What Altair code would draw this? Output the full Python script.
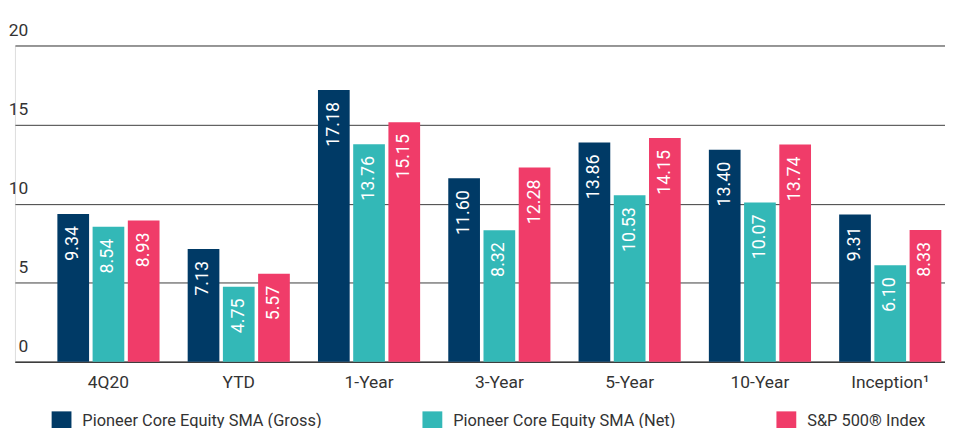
import altair as alt
import pandas as pd

categories = ["4Q20", "YTD", "1-Year", "3-Year", "5-Year", "10-Year", "Inception¹"]
series = ["Pioneer Core Equity SMA (Gross)", "Pioneer Core Equity SMA (Net)", "S&P 500® Index"]
gross = [9.34, 7.13, 17.18, 11.60, 13.86, 13.40, 9.31]
net = [8.54, 4.75, 13.76, 8.32, 10.53, 10.07, 6.10]
sp500 = [8.93, 5.57, 15.15, 12.28, 14.15, 13.74, 8.33]
colors = ["#003a66", "#33b8b7", "#f03c69"]
y_ticks = [0, 5, 10, 15, 20]

rows = []
for name, vals in zip(series, [gross, net, sp500]):
    for cat, v in zip(categories, vals):
        rows.append({"period": cat, "series": name, "value": v})
df = pd.DataFrame(rows)

FONT = "Roboto"

x_enc = alt.X(
    "period:N",
    sort=categories,
    scale=alt.Scale(paddingInner=0.216, paddingOuter=0.177, align=0.92),
    axis=alt.Axis(
        title=None, labelAngle=0, ticks=False, domainColor="#3d3d3d", domainWidth=1.5,
        labelFontSize=17.5, labelPadding=12, labelColor="#333333", labelFont=FONT,
    ),
)
xo_enc = alt.XOffset("series:N", sort=series, scale=alt.Scale(paddingInner=0.1, paddingOuter=0))
y_enc = alt.Y(
    "value:Q",
    scale=alt.Scale(domain=[0, 20], nice=False),
    axis=alt.Axis(
        values=y_ticks, title=None, domain=False, ticks=False, tickSize=0,
        gridColor="#3d3d3d", gridWidth=1, labelAlign="right", labelPadding=-13,
        labelOffset=-10, labelBaseline="alphabetic", labelFontSize=17.5,
        labelColor="#333333", labelFont=FONT,
    ),
)

base = alt.Chart(df).encode(x=x_enc, xOffset=xo_enc, y=y_enc)

bars = base.mark_bar().encode(
    color=alt.Color(
        "series:N",
        sort=series,
        scale=alt.Scale(domain=series, range=colors),
        legend=alt.Legend(
            title=None, orient="none", legendX=37, legendY=369, direction="horizontal",
            columns=3, gridAlign="each", columnPadding=101, symbolType="square",
            symbolSize=400, symbolStrokeWidth=0, symbolOpacity=1, labelFontSize=16.5,
            labelOffset=11, labelColor="#333333", labelFont=FONT, padding=0,
            labelLimit=400,
        ),
    )
)

labels = base.mark_text(
    angle=270, align="right", baseline="middle", dx=-12, color="white",
    fontSize=18, font=FONT,
).encode(text=alt.Text("value:Q", format=".2f"))

chart = (
    alt.layer(bars, labels)
    .properties(
        width=938, height=319,
        autosize=alt.AutoSizeParams(type="none"),
        padding={"left": 7, "top": 36, "right": 0, "bottom": 70},
    )
    .configure_view(stroke=None)
    .configure(font=FONT)
)

chart.save("out.html", embed_options={"renderer": "svg", "actions": False})
